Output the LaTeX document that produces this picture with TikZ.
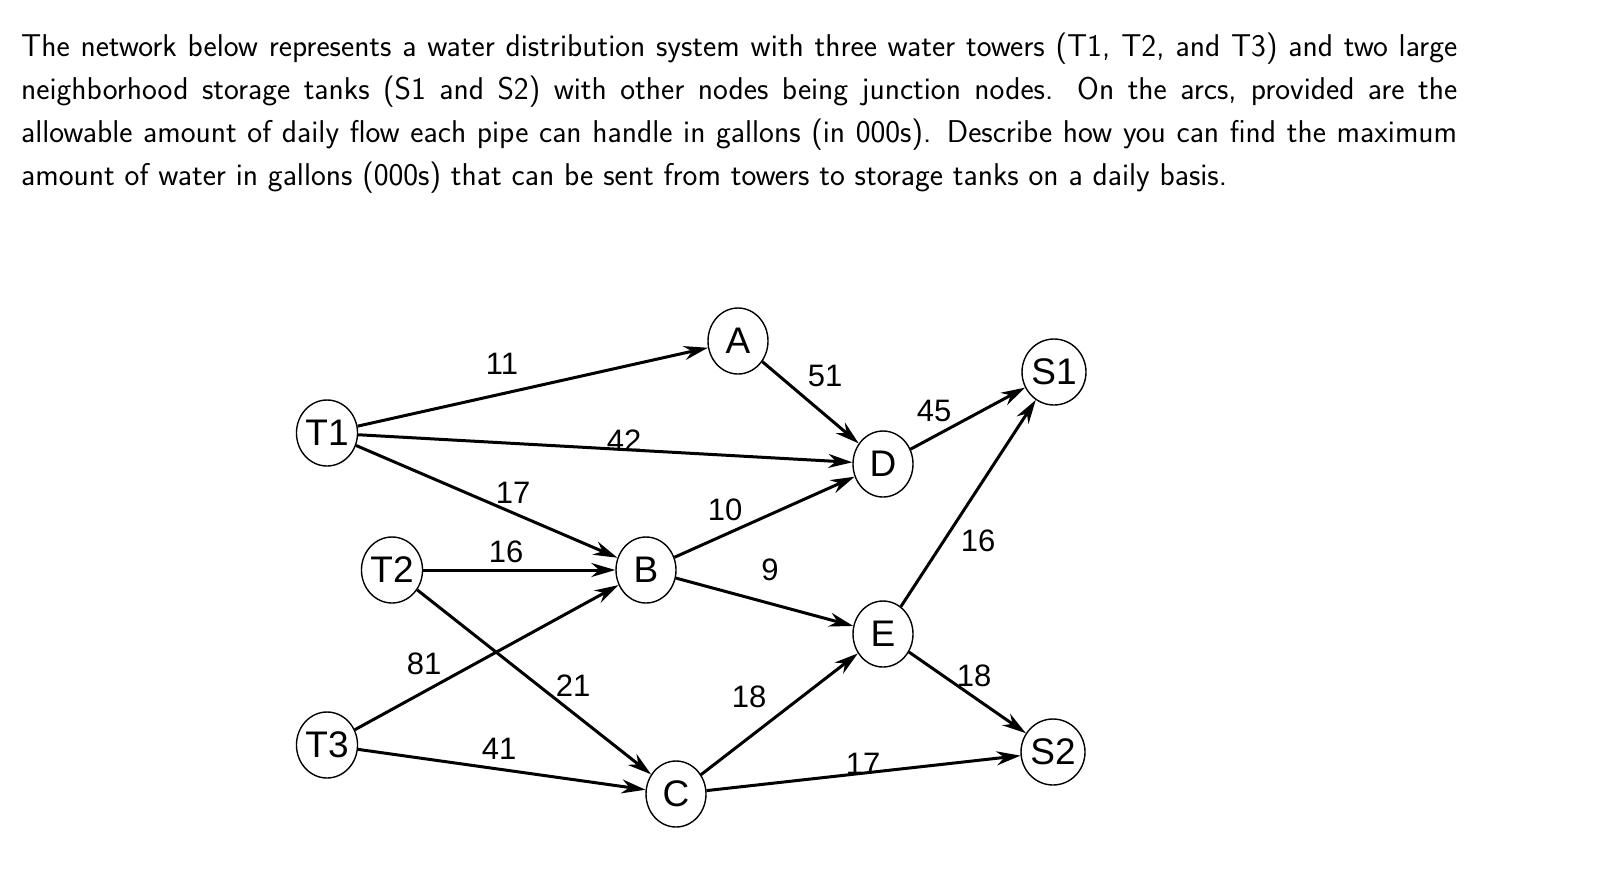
\documentclass[tikz,border=0pt]{standalone}
\usepackage{fontspec}
\newfontfamily\arial{Liberation Sans}
\usetikzlibrary{arrows.meta,shapes.geometric}
\begin{document}
\begin{tikzpicture}[x=1pt,y=-1pt,
  vtx/.style={draw,ellipse,line width=1.4pt,minimum width=60pt,minimum height=66pt,inner sep=0pt,font=\arial\fontsize{37}{37}\selectfont},
  arc/.style={line width=3pt,-{Stealth[length=24pt,width=14pt]}},
  lab/.style={font=\arial\fontsize{31}{31}\selectfont}]
\useasboundingbox (0,0) rectangle (1624,868);
\node[anchor=north west,text width=1436pt,align=justify,inner sep=0pt,font=\sffamily\fontsize{31.5}{42.8}\selectfont] (txt) at (21,33)
{The network below represents a water distribution system with three water towers (T1, T2, and T3) and two large neighborhood storage tanks (S1 and S2) with other nodes being junction nodes. On the arcs, provided are the allowable amount of daily flow each pipe can handle in gallons (in 000s). Describe how you can find the maximum amount of water in gallons (000s) that can be sent from towers to storage tanks on a daily basis.};
\node[vtx] (T1) at (327,433) {T1};
\node[vtx] (T2) at (392,570) {T2};
\node[vtx] (T3) at (327,745) {T3};
\node[vtx] (A) at (738,341) {A};
\node[vtx] (B) at (646,570) {B};
\node[vtx] (C) at (676,794) {C};
\node[vtx] (D) at (883,464) {D};
\node[vtx] (E) at (883,634) {E};
\node[vtx] (S1) at (1054,372) {S1};
\node[vtx] (S2) at (1053,752) {S2};
\draw[arc] (T1) -- (A);
\draw[arc] (T1) -- (D);
\draw[arc] (T1) -- (B);
\draw[arc] (T2) -- (B);
\draw[arc] (T2) -- (C);
\draw[arc] (T3) -- (B);
\draw[arc] (T3) -- (C);
\draw[arc] (A) -- (D);
\draw[arc] (B) -- (D);
\draw[arc] (B) -- (E);
\draw[arc] (C) -- (E);
\draw[arc] (C) -- (S2);
\draw[arc] (D) -- (S1);
\draw[arc] (E) -- (S1);
\draw[arc] (E) -- (S2);
\node[lab] (l1) at (502,364) {11};
\node[lab] (l2) at (624,441) {42};
\node[lab] (l3) at (513,493) {17};
\node[lab] (l4) at (506,552) {16};
\node[lab] (l5) at (725,510) {10};
\node[lab] (l6) at (770,570) {9};
\node[lab] (l7) at (825,376) {51};
\node[lab] (l8) at (934,411) {45};
\node[lab] (l9) at (978,541) {16};
\node[lab] (l10) at (974,676) {18};
\node[lab] (l11) at (749,697) {18};
\node[lab] (l12) at (863,764) {17};
\node[lab] (l13) at (424,664) {81};
\node[lab] (l14) at (573,686) {21};
\node[lab] (l15) at (499,749) {41};
\end{tikzpicture}
\end{document}
